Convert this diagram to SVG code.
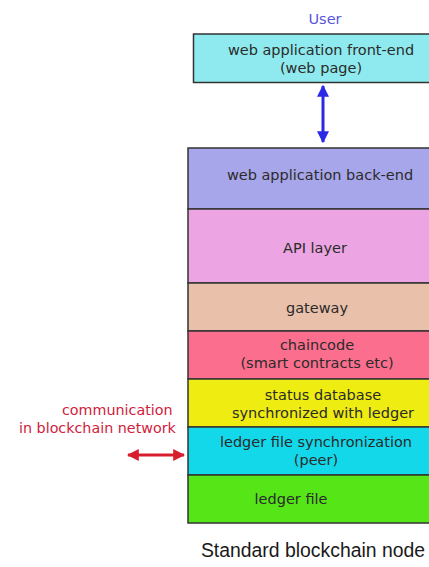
<svg xmlns="http://www.w3.org/2000/svg" width="429" height="567" viewBox="0 0 429 567">
<defs>
<style>
.box{stroke:#333;stroke-width:1.5}
.lbl{font-family:"DejaVu Sans",Verdana,sans-serif;font-size:14.5px;fill:#2b2b2b;text-anchor:middle}
.red{font-family:"DejaVu Sans",Verdana,sans-serif;font-size:14.3px;fill:#d0213c}
</style>
<marker id="ab" viewBox="0 0 10 10" refX="9" refY="5" markerWidth="4" markerHeight="4" orient="auto-start-reverse"><path d="M0,0 L10,5 L0,10 z" fill="#2a2ae6"/></marker>
<marker id="ar" viewBox="0 0 10 10" refX="9" refY="5" markerWidth="4" markerHeight="4" orient="auto-start-reverse"><path d="M0,0 L10,5 L0,10 z" fill="#d81e2e"/></marker>
</defs>
<rect width="429" height="567" fill="#fff"/>
<text x="325" y="24" text-anchor="middle" style="font-family:'DejaVu Sans',sans-serif;font-size:14.5px;fill:#5656dc">User</text>
<g id="frontend"><rect class="box" x="193.5" y="34" width="250" height="48.5" fill="#8eeaee"/><text class="lbl" x="321" y="55">web application front-end</text><text class="lbl" x="321" y="73">(web page)</text></g>
<g id="backend"><rect class="box" x="188" y="148" width="260" height="61" fill="#a8a6ea"/><text class="lbl" x="320" y="180">web application back-end</text></g>
<g id="api"><rect class="box" x="188" y="209" width="260" height="74" fill="#eca4e2"/><text class="lbl" x="315" y="253">API layer</text></g>
<g id="gateway"><rect class="box" x="188" y="283" width="260" height="48" fill="#e9c0aa"/><text class="lbl" x="317" y="313">gateway</text></g>
<g id="chaincode"><rect class="box" x="188" y="331" width="260" height="48" fill="#fb6e8e"/><text class="lbl" x="317" y="350">chaincode</text><text class="lbl" x="317" y="368">(smart contracts etc)</text></g>
<g id="statusdb"><rect class="box" x="188" y="379" width="260" height="48" fill="#eeec10"/><text class="lbl" x="323" y="400">status database</text><text class="lbl" x="323" y="418">synchronized with ledger</text></g>
<g id="ledgersync"><rect class="box" x="188" y="427" width="260" height="48" fill="#12d8ea"/><text class="lbl" x="316" y="447">ledger file synchronization</text><text class="lbl" x="316" y="465">(peer)</text></g>
<g id="ledgerfile"><rect class="box" x="188" y="475" width="260" height="48" fill="#56e516"/><text class="lbl" x="291" y="504">ledger file</text></g>
<g id="connectors">
<line x1="323" y1="86" x2="323" y2="142" stroke="#2a2ae6" stroke-width="3" marker-start="url(#ab)" marker-end="url(#ab)"/>
<line x1="128" y1="455" x2="184" y2="455" stroke="#d81e2e" stroke-width="3" marker-start="url(#ar)" marker-end="url(#ar)"/>
</g>
<text class="red" x="62" y="415">communication</text>
<text class="red" x="19" y="433">in blockchain network</text>
<text x="313" y="557" text-anchor="middle" style="font-family:'Liberation Sans',Arial,sans-serif;font-size:19.4px;fill:#1a1a1a">Standard blockchain node</text>
</svg>
